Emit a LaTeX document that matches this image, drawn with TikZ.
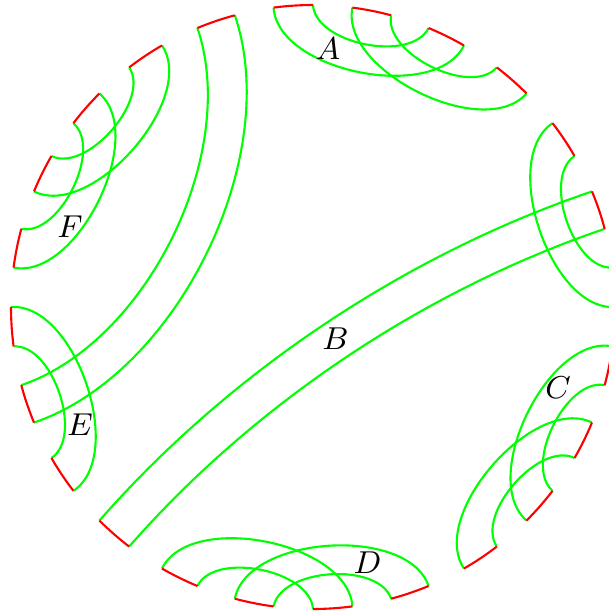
\documentclass[tikz,border=0pt]{standalone}
\definecolor{ribgreen}{RGB}{0,255,0}
\definecolor{ribred}{RGB}{255,0,0}
\begin{document}
\begin{tikzpicture}[x=0.01cm,y=0.01cm,
  rib/.style={draw=ribgreen, line width=0.6pt},
  redarc/.style={draw=ribred, line width=0.6pt},
  lab/.style={font=\fontsize{9}{10}\selectfont, inner sep=0pt}]
\useasboundingbox (-313,-307) rectangle (296,307);
\def\R{302}
% boundary points of the 24 red arcs
\foreach \k in {0,...,23}{
  \pgfmathsetmacro\sa{15*\k}
  \pgfmathsetmacro\ea{15*\k+7.5}
  \coordinate (s\k) at (\sa:\R);
  \coordinate (e\k) at (\ea:\R);
}
% green ribbons
\foreach \i/\j in {15/1,0/2,3/5,4/6,7/13,8/10,9/11,12/14,16/18,17/19,20/22,21/23}{
  \pgfmathsetmacro\ao{15*\i+183.75}
  \pgfmathsetmacro\ai{15*\j+183.75}
  \draw[rib] (e\i) to[out=\ao, in=\ai, looseness=0.85] (s\j);
  \draw[rib] (s\i) to[out=\ao, in=\ai, looseness=0.85] (e\j);
}
% red arcs
\foreach \k in {0,...,23}{
  \pgfmathsetmacro\sa{15*\k}
  \pgfmathsetmacro\ea{15*\k+7.5}
  \draw[redarc] (s\k) arc[start angle=\sa, end angle=\ea, radius=\R];
}
% labels
\node[lab] (labA) at (15,258.5) {$A$};
\node[lab] (labB) at (22.5,-32) {$B$};
\node[lab] (labC) at (245,-80.5) {$C$};
\node[lab] (labD) at (54.5,-255.5) {$D$};
\node[lab] (labE) at (-233,-117.5) {$E$};
\node[lab] (labF) at (-243,80) {$F$};
\end{tikzpicture}
\end{document}
